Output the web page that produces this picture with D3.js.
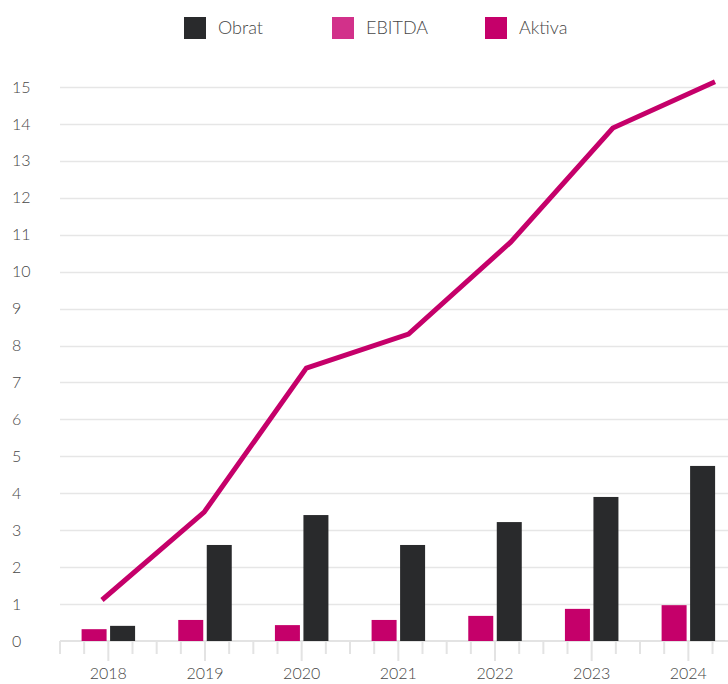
<!DOCTYPE html>
<html>
<head>
<meta charset="utf-8">
<script src="https://cdn.jsdelivr.net/npm/d3@7"></script>
<style>
  html, body { margin: 0; padding: 0; background: #fff; }
  svg { display: block; }
  text { font-family: Lato, "Noto Sans", sans-serif; font-weight: 300; }
</style>
</head>
<body>
<script>
const years = ["2018", "2019", "2020", "2021", "2022", "2023", "2024"];
const obrat = [0.41, 2.6, 3.41, 2.6, 3.22, 3.9, 4.74];
const ebitda = [0.32, 0.57, 0.43, 0.57, 0.68, 0.87, 0.97];
const aktiva = [1.11, 3.49, 7.39, 8.31, 10.8, 13.89, 15.14];
const yTicks = [0, 1, 2, 3, 4, 5, 6, 7, 8, 9, 10, 11, 12, 13, 14, 15];
const legendItems = ["Obrat", "EBITDA", "Aktiva"];

const W = 728, H = 684;
const colors = { Obrat: "#292a2c", EBITDA: "#d2318a", Aktiva: "#c5006a" };
const barColor = "#c5006a";

const svg = d3.select("body").append("svg").attr("width", W).attr("height", H);

const y = d3.scaleLinear().domain([0, 15]).range([641, 87]);
const x = d3.scaleBand().domain(years).range([60, 60 + 7 * 96.67]);
const xLine = d3.scalePoint().domain(years).range([102, 715]);

// grid lines
svg.append("g").selectAll("line").data(yTicks.filter(d => d > 0)).join("line")
  .attr("x1", 60).attr("x2", W)
  .attr("y1", d => Math.round(y(d)) + 0.5).attr("y2", d => Math.round(y(d)) + 0.5)
  .attr("stroke", "#e6e6e6").attr("stroke-width", 1.5);

// y labels
svg.append("g").selectAll("text").data(yTicks).join("text")
  .attr("x", 12).attr("y", d => y(d)).attr("dy", "0.35em")
  .attr("font-size", 16).attr("fill", "#474747")
  .text(d => d);

// baseline + ticks
const axisG = svg.append("g");
axisG.append("line").attr("x1", 60).attr("x2", W).attr("y1", 641).attr("y2", 641)
  .attr("stroke", "#e3e3e3").attr("stroke-width", 2);
const tickPos = [];
years.forEach(yr => {
  const x0 = x(yr), bw = x.bandwidth();
  [0, 0.25, 0.5, 0.75].forEach(f => tickPos.push({ x: x0 + f * bw, major: f === 0.5 }));
});
tickPos.push({ x: x.range()[1], major: false });
axisG.selectAll("line.tick").data(tickPos).join("line").attr("class", "tick")
  .attr("x1", d => d.x).attr("x2", d => d.x)
  .attr("y1", 641).attr("y2", d => d.major ? 661 : 654)
  .attr("stroke", "#e3e3e3").attr("stroke-width", 2);
axisG.selectAll("text").data(years).join("text")
  .attr("x", d => x(d) + x.bandwidth() / 2).attr("y", 679)
  .attr("text-anchor", "middle").attr("font-size", 16).attr("fill", "#474747")
  .text(d => d);

// bars
const bw = 25, gap = 3.5;
svg.append("g").selectAll("rect").data(years).join("rect")
  .attr("x", d => x(d) + x.bandwidth() / 2 - gap / 2 - bw)
  .attr("width", bw)
  .attr("y", (d, i) => y(ebitda[i]))
  .attr("height", (d, i) => y(0) - y(ebitda[i]))
  .attr("fill", barColor);
svg.append("g").selectAll("rect").data(years).join("rect")
  .attr("x", d => x(d) + x.bandwidth() / 2 + gap / 2)
  .attr("width", bw)
  .attr("y", (d, i) => y(obrat[i]))
  .attr("height", (d, i) => y(0) - y(obrat[i]))
  .attr("fill", colors.Obrat);

// line
const line = d3.line().x((d, i) => xLine(years[i])).y(d => y(d));
svg.append("path").datum(aktiva).attr("d", line)
  .attr("fill", "none").attr("stroke", colors.Aktiva).attr("stroke-width", 5)
  .attr("stroke-linejoin", "miter");

// legend
const legendX = [184, 332, 485];
const lg = svg.append("g").selectAll("g").data(legendItems).join("g")
  .attr("transform", (d, i) => `translate(${legendX[i]},17)`);
lg.append("rect").attr("width", 22).attr("height", 22).attr("fill", d => colors[d]);
lg.append("text").attr("x", 34).attr("y", 11).attr("dy", "0.35em")
  .attr("font-size", 18).attr("fill", "#474747").text(d => d);
</script>
</body>
</html>
